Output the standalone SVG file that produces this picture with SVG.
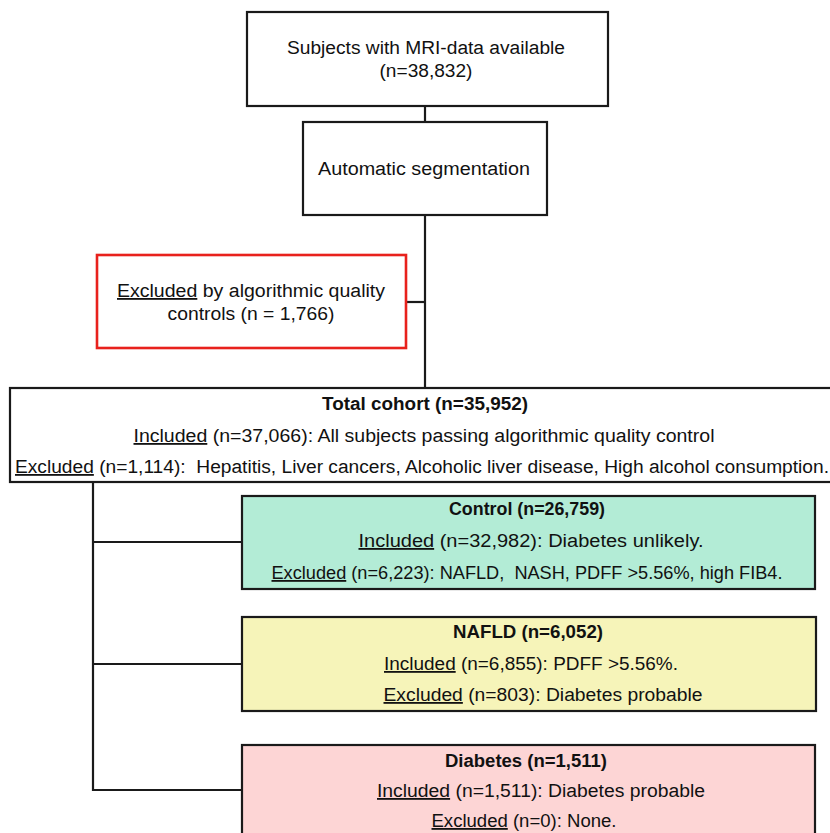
<svg xmlns="http://www.w3.org/2000/svg" width="830" height="833" viewBox="0 0 830 833">
<style>
text{font-family:"Liberation Sans",Arial,sans-serif;font-size:18px;fill:#111;text-anchor:middle}
.b{font-weight:bold}
.u{text-decoration:underline}
.box{stroke:#1a1a1a;stroke-width:2.2;fill:#fff}
.red{stroke:#e8211c;stroke-width:2.6;fill:#fff}
.green{fill:#b3ecd6}
.yellow{fill:#f6f4b9}
.pink{fill:#fdd5d5}
.conn{stroke:#1a1a1a;stroke-width:2.2;fill:none}
</style>
<rect width="830" height="833" fill="#fff"/>
<g id="connectors">
<line class="conn" x1="425" y1="106" x2="425" y2="122"/>
<line class="conn" x1="425" y1="215" x2="425" y2="388"/>
<line class="conn" x1="406" y1="302" x2="425" y2="302"/>
<polyline class="conn" points="93,482 93,790 242,790"/>
<line class="conn" x1="93" y1="542" x2="242" y2="542"/>
<line class="conn" x1="93" y1="664" x2="242" y2="664"/>
</g>
<g id="mri">
<rect class="box" x="247" y="12" width="361" height="94"/>
<text x="426" y="54" textLength="278" lengthAdjust="spacingAndGlyphs">Subjects with MRI-data available</text>
<text x="426" y="77" textLength="93" lengthAdjust="spacingAndGlyphs">(n=38,832)</text>
</g>
<g id="segmentation">
<rect class="box" x="303" y="122" width="244" height="93"/>
<text x="424" y="175" textLength="212" lengthAdjust="spacingAndGlyphs">Automatic segmentation</text>
</g>
<g id="excluded-qc">
<rect class="red" x="97" y="255" width="309" height="93"/>
<text x="251" y="297" textLength="268" lengthAdjust="spacingAndGlyphs"><tspan class="u">Excluded</tspan> by algorithmic quality</text>
<text x="251" y="320" textLength="167" lengthAdjust="spacingAndGlyphs">controls (n = 1,766)</text>
</g>
<g id="total">
<rect class="box" x="10" y="388" width="840" height="94"/>
<text class="b" x="425" y="410" textLength="206" lengthAdjust="spacingAndGlyphs">Total cohort (n=35,952)</text>
<text x="424" y="442" textLength="581" lengthAdjust="spacingAndGlyphs"><tspan class="u">Included</tspan> (n=37,066): All subjects passing algorithmic quality control</text>
<text x="422" y="473" textLength="814" lengthAdjust="spacingAndGlyphs"><tspan class="u">Excluded</tspan> (n=1,114): &#160;Hepatitis, Liver cancers, Alcoholic liver disease, High alcohol consumption.</text>
</g>
<g id="control">
<rect class="box green" x="242" y="496" width="573" height="93"/>
<text class="b" x="527" y="515" textLength="156" lengthAdjust="spacingAndGlyphs">Control (n=26,759)</text>
<text x="531" y="547" textLength="345" lengthAdjust="spacingAndGlyphs"><tspan class="u">Included</tspan> (n=32,982): Diabetes unlikely.</text>
<text x="527" y="579" textLength="511" lengthAdjust="spacingAndGlyphs"><tspan class="u">Excluded</tspan> (n=6,223): NAFLD, &#160;NASH, PDFF &gt;5.56%, high FIB4.</text>
</g>
<g id="nafld">
<rect class="box yellow" x="242" y="617" width="574" height="94"/>
<text class="b" x="528" y="638" textLength="150" lengthAdjust="spacingAndGlyphs">NAFLD (n=6,052)</text>
<text x="531" y="670" textLength="294" lengthAdjust="spacingAndGlyphs"><tspan class="u">Included</tspan> (n=6,855): PDFF &gt;5.56%.</text>
<text x="543" y="701" textLength="319" lengthAdjust="spacingAndGlyphs"><tspan class="u">Excluded</tspan> (n=803): Diabetes probable</text>
</g>
<g id="diabetes">
<rect class="box pink" x="242" y="745" width="573" height="100"/>
<text class="b" x="526" y="767" textLength="162" lengthAdjust="spacingAndGlyphs">Diabetes (n=1,511)</text>
<text x="541" y="797" textLength="328" lengthAdjust="spacingAndGlyphs"><tspan class="u">Included</tspan> (n=1,511): Diabetes probable</text>
<text x="524" y="827" textLength="185" lengthAdjust="spacingAndGlyphs"><tspan class="u">Excluded</tspan> (n=0): None.</text>
</g>
</svg>
